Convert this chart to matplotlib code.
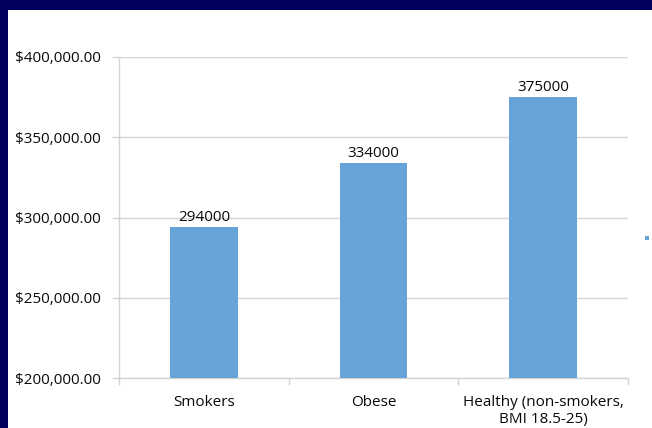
import matplotlib.pyplot as plt
from matplotlib.patches import Rectangle
from matplotlib.ticker import FuncFormatter, MultipleLocator

plt.rcParams['font.family'] = ['Open Sans', 'DejaVu Sans']

categories = ['Smokers', 'Obese', 'Healthy (non-smokers,\nBMI 18.5-25)']
costs = [294000, 334000, 375000]

bar_color = '#66a3d9'
grid_color = '#d4d4d4'
text_color = '#0a0a0a'

fig = plt.figure(figsize=(6.52, 4.28), dpi=100)
fig.patch.set_facecolor('#00005c')

# white slide panel
fig.patches.append(Rectangle((8 / 652, 0), 1, 1 - 10 / 428, transform=fig.transFigure,
                             facecolor='white', edgecolor='none', zorder=-2))
# stray legend key on the right
fig.patches.append(Rectangle((645 / 652, 1 - 240 / 428), 4 / 652, 4 / 428,
                             transform=fig.transFigure, facecolor=bar_color,
                             edgecolor='none', zorder=-1))

ax = fig.add_axes([119 / 652, 1 - 378 / 428, 509 / 652, 321 / 428])
ax.set_zorder(1)
ax.set_facecolor('white')

x = range(len(categories))
bars = ax.bar(x, costs, width=0.4, color=bar_color, zorder=3)
for b, v in zip(bars, costs):
    ax.text(b.get_x() + b.get_width() / 2, v + 1500, str(v), ha='center', va='bottom',
            fontsize=11, color=text_color, zorder=4)

ax.set_ylim(200000, 400000)
ax.set_xlim(-0.5, len(categories) - 0.5)
ax.yaxis.set_major_locator(MultipleLocator(50000))
ax.yaxis.set_major_formatter(FuncFormatter(lambda v, p: '${:,.2f}'.format(v)))
ax.grid(axis='y', color=grid_color, linewidth=1, zorder=0)

ax.set_xticks(list(x))
ax.set_xticklabels(categories, fontsize=11, color=text_color, linespacing=1.25)
ax.set_xticks([i - 0.5 for i in range(len(categories) + 1)], minor=True)
ax.tick_params(axis='x', which='major', length=0, pad=12)
ax.tick_params(axis='x', which='minor', length=5, color=grid_color, width=1)
ax.tick_params(axis='y', length=5, color=grid_color, width=1, labelsize=11,
               labelcolor=text_color, pad=8)

for s in ['top', 'right']:
    ax.spines[s].set_visible(False)
for s in ['left', 'bottom']:
    ax.spines[s].set_color(grid_color)
    ax.spines[s].set_linewidth(1)

fig.savefig('out.png', dpi=100, facecolor=fig.get_facecolor())
